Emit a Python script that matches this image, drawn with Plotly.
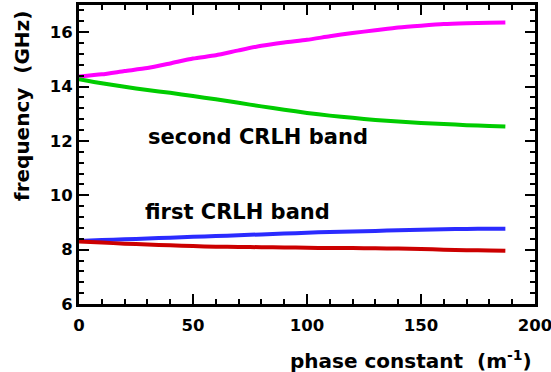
import plotly.graph_objects as go

beta = [0, 10, 20, 30, 40, 50, 60, 70, 80, 90, 100, 110, 120, 130, 140, 150, 160, 170, 180, 187]
f_magenta = [14.37, 14.45, 14.57, 14.68, 14.85, 15.03, 15.15, 15.33, 15.50, 15.62, 15.72, 15.85, 15.97, 16.07, 16.17, 16.24, 16.30, 16.33, 16.35, 16.36]
f_green = [14.27, 14.12, 13.99, 13.87, 13.77, 13.65, 13.53, 13.40, 13.27, 13.15, 13.03, 12.93, 12.85, 12.77, 12.71, 12.66, 12.62, 12.58, 12.55, 12.53]
f_blue = [8.32, 8.35, 8.38, 8.41, 8.44, 8.47, 8.50, 8.53, 8.56, 8.59, 8.62, 8.65, 8.67, 8.69, 8.71, 8.73, 8.75, 8.76, 8.77, 8.77]
f_red = [8.30, 8.26, 8.22, 8.19, 8.16, 8.13, 8.11, 8.10, 8.09, 8.08, 8.07, 8.06, 8.06, 8.05, 8.04, 8.02, 8.00, 7.98, 7.97, 7.96]

series = [
    (f_magenta, "#ff00ff"),
    (f_green, "#00cc00"),
    (f_blue, "#2b2bff"),
    (f_red, "#cc0000"),
]

labels = [("second CRLH band", 78.5, 12.13), ("first CRLH band", 69.4, 9.39)]

FONT = "DejaVu Sans"

fig = go.Figure()
for ys, col in series:
    fig.add_trace(go.Scatter(x=beta, y=ys, mode="lines",
                             line=dict(color=col, width=4, shape="spline", smoothing=0.6),
                             showlegend=False, hoverinfo="skip"))

for txt, x, y in labels:
    fig.add_annotation(x=x, y=y, text=txt, showarrow=False, xanchor="center", yanchor="middle",
                       font=dict(family=FONT, size=21, color="black", weight="bold"))

fig.add_annotation(xref="paper", yref="paper", x=-0.125, y=0.662, text="frequency\u00a0\u00a0(GHz)",
                   textangle=-90, showarrow=False, xanchor="center", yanchor="middle",
                   font=dict(family=FONT, size=20, color="black", weight="bold"))
fig.add_annotation(xref="paper", yref="paper", x=0.729, y=-0.187,
                   text="phase constant\u00a0\u00a0(m<sup>-1</sup>)",
                   showarrow=False, xanchor="center", yanchor="middle",
                   font=dict(family=FONT, size=20, color="black", weight="bold"))

axis_common = dict(
    showline=True, linewidth=3, linecolor="black", mirror="ticks",
    ticks="inside", ticklen=10, tickwidth=2, tickcolor="black",
    showgrid=False, zeroline=False, automargin=False,
    ticklabeloverflow="allow",
    tickfont=dict(family=FONT, size=16.5, color="black", weight="bold"),
)

fig.update_xaxes(range=[0, 200], dtick=50, tick0=0, ticklabelstandoff=4,
                 minor=dict(dtick=10, ticks="inside", ticklen=5, tickwidth=1.5, tickcolor="black", showgrid=False),
                 **axis_common)
fig.update_yaxes(range=[6, 17], dtick=2, tick0=0,
                 minor=dict(dtick=0.4, ticks="inside", ticklen=5, tickwidth=1.5, tickcolor="black", showgrid=False),
                 **axis_common)

fig.update_layout(width=551, height=372, margin=dict(l=79, r=16, t=5, b=68),
                  plot_bgcolor="white", paper_bgcolor="white")

fig.write_html("out.html", config={"displayModeBar": False},
               post_script="document.body.style.margin='0';document.body.style.overflow='hidden';")
